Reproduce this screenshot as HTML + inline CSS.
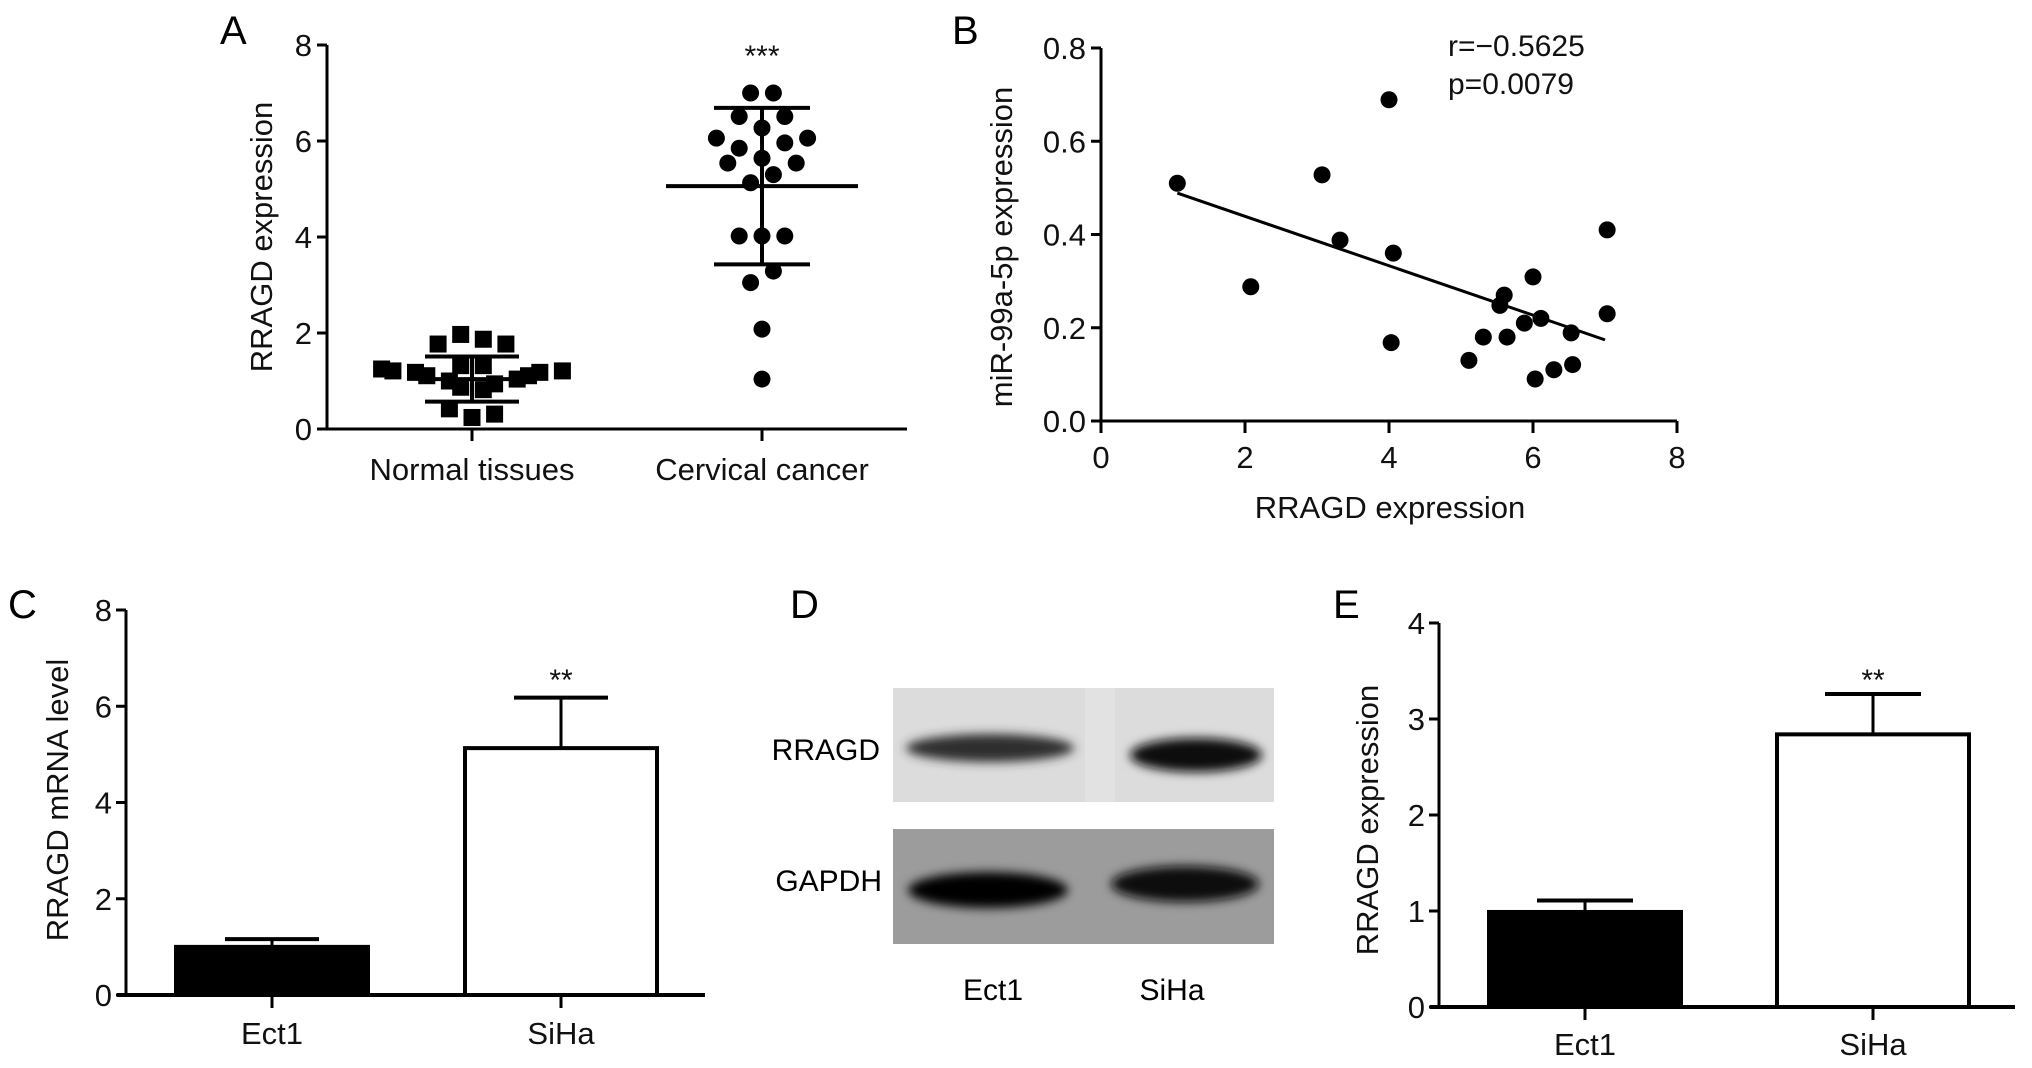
<!DOCTYPE html>
<html><head><meta charset="utf-8"><style>
html,body{margin:0;padding:0;background:#fff;}
svg{display:block;font-family:"Liberation Sans",Arial,sans-serif;}
</style></head><body>
<svg id="fig" width="2032" height="1068" viewBox="0 0 2032 1068" xmlns="http://www.w3.org/2000/svg">
<defs>
<filter id="blur" x="-20%" y="-60%" width="140%" height="220%"><feGaussianBlur stdDeviation="5"/></filter>
</defs>
<text x="220" y="44" font-size="40">A</text>
<text x="952" y="44" font-size="40">B</text>
<text x="8" y="618" font-size="40">C</text>
<text x="790" y="618" font-size="40">D</text>
<text x="1333" y="618" font-size="40">E</text>

<g>
<rect x="893" y="688" width="381" height="114" fill="#dcdcdc"/>
<rect x="1085" y="688" width="30" height="114" fill="#e2e2e2"/>
<ellipse cx="990" cy="748" rx="84" ry="14" fill="#2e2e2e" filter="url(#blur)"/>
<ellipse cx="1196" cy="755" rx="66" ry="17" fill="#0c0c0c" filter="url(#blur)"/>
<rect x="893" y="829" width="381" height="115" fill="#9c9c9c"/>
<ellipse cx="988" cy="890" rx="80" ry="18" fill="#050505" filter="url(#blur)"/>
<ellipse cx="1185" cy="884" rx="74" ry="18" fill="#080808" filter="url(#blur)"/>
<text x="880" y="760" font-size="30" text-anchor="end">RRAGD</text>
<text x="882" y="891" font-size="30" text-anchor="end">GAPDH</text>
<text x="993" y="1000" font-size="30" text-anchor="middle">Ect1</text>
<text x="1172" y="1000" font-size="30" text-anchor="middle">SiHa</text>
</g>
</svg>
<script>
// ---------- Panel A data ----------
const aCategories = ["Normal tissues", "Cervical cancer"];
const aNormalValues = [1.97,1.87,1.77,1.77,1.32,1.32,1.25,1.21,1.18,1.11,1.0,1.21,1.18,1.11,1.04,0.94,0.87,0.82,0.42,0.31,0.24];
const aNormalJitter = [-1,1,-3,3,-1,1,-8,-7,-5,-4,-2,8,6,5,4,2,-1,1,-2,2,0];
const aCancerValues = [7.0,7.0,6.51,6.51,6.27,6.06,6.06,5.96,5.85,5.64,5.54,5.54,5.30,5.13,4.02,4.02,4.02,3.29,3.05,2.08,1.04];
const aCancerJitter = [-0.5,0.5,-1,1,0,-2,2,1,-1,0,-1.5,1.5,0.5,-0.5,-1,0,1,0.5,-0.5,0,0];
const aMean = [1.04, 5.06];
const aSD = [0.47, 1.63];
const aTicks = [0,2,4,6,8];
// ---------- Panel B data ----------
const bX = [1.06,3.07,4.0,3.32,4.06,2.08,4.03,7.03,7.03,6.0,5.6,5.54,5.88,6.11,5.31,5.64,6.53,5.11,6.55,6.29,6.03];
const bY = [0.51,0.528,0.689,0.388,0.36,0.288,0.168,0.41,0.23,0.309,0.27,0.248,0.21,0.22,0.18,0.18,0.189,0.13,0.121,0.11,0.09];
const bFitSlope = -0.053;
const bFitIntercept = 0.545;
const bFitRange = [1.06, 7.0];
const bXTicks = [0,2,4,6,8];
const bYTicks = [0,0.2,0.4,0.6,0.8];
const bYTickLabels = ["0.0","0.2","0.4","0.6","0.8"];
// ---------- Panel C data ----------
const cCategories = ["Ect1","SiHa"];
const cValues = [1.0, 5.13];
const cErrors = [0.16, 1.05];
const cTicks = [0,2,4,6,8];
// ---------- Panel E data ----------
const eCategories = ["Ect1","SiHa"];
const eValues = [0.99, 2.84];
const eErrors = [0.12, 0.42];
const eTicks = [0,1,2,3,4];

const svg = document.getElementById('fig');
const NS = 'http://www.w3.org/2000/svg';
function mk(tag, attrs, text){
  const el = document.createElementNS(NS, tag);
  for (const k in attrs) el.setAttribute(k, attrs[k]);
  if (text !== undefined) el.textContent = text;
  svg.appendChild(el);
  return el;
}
function line(x1,y1,x2,y2,w,name){
  const el = mk('line',{x1:x1,y1:y1,x2:x2,y2:y2,stroke:'#000','stroke-width':w});
  
  
  return el;
}
function txt(x,y,s,size,anchor,name,rot){
  const a = {x:x,y:y,'font-size':size,'text-anchor':anchor,fill:'#111'};
  if (rot) a.transform = 'rotate(-90 '+x+' '+y+')';
  const el = mk('text',a,s);
  
  
  return el;
}

// ===== Panel A =====
(function(){
  const ax = 327, y0 = 429, y8 = 45, xEnd = 907;
  const ys = v => y0 - (y0 - y8) * v / 8;
  const cx = [472, 762];
  line(ax, y8, ax, y0+1.5, 3, 'a-y-axis');
  line(ax-8, y0, xEnd, y0, 3, 'a-x-axis');
  aTicks.forEach(t => {
    line(ax-10, ys(t), ax, ys(t), 3, 'a-y-tick');
    txt(ax-15, ys(t)+11, String(t), 31, 'end', 'a-y-tick-label');
  });
  aCategories.forEach((c,i) => {
    line(cx[i], y0, cx[i], y0+12, 3, 'a-x-tick');
    txt(cx[i], 480, c, 31, 'middle', 'a-x-tick-label');
  });
  txt(272, 237, 'RRAGD expression', 31, 'middle', 'a-y-axis-title', true);
  txt(762, 66, '***', 30, 'middle', 'a-significance');
  aNormalValues.forEach((v,i) => {
    const s = 17;
    const el = mk('rect',{x:cx[0]+aNormalJitter[i]*11.3 - s/2, y:ys(v)-s/2, width:s, height:s, fill:'#000'});
    
    
  });
  aCancerValues.forEach((v,i) => {
    const el = mk('ellipse',{cx:cx[1]+aCancerJitter[i]*22.8, cy:ys(v), rx:8.5, ry:8.5, fill:'#000'});
    
    
  });
  const meanHalf = [47, 96], sdHalf = [47, 48];
  [0,1].forEach(i => {
    line(cx[i], ys(aMean[i]+aSD[i]), cx[i], ys(aMean[i]-aSD[i]), 4, 'a-sd-line');
    line(cx[i]-meanHalf[i], ys(aMean[i]), cx[i]+meanHalf[i], ys(aMean[i]), 4, 'a-mean-line');
    line(cx[i]-sdHalf[i], ys(aMean[i]+aSD[i]), cx[i]+sdHalf[i], ys(aMean[i]+aSD[i]), 4, 'a-sd-cap-upper');
    line(cx[i]-sdHalf[i], ys(aMean[i]-aSD[i]), cx[i]+sdHalf[i], ys(aMean[i]-aSD[i]), 4, 'a-sd-cap-lower');
  });
})();

// ===== Panel B =====
(function(){
  const ax = 1101, y0 = 421, yTop = 48, x8 = 1677;
  const xs = v => ax + (x8 - ax) * v / 8;
  const ys = v => y0 - (y0 - yTop) * v / 0.8;
  line(ax, yTop, ax, y0+1.5, 3, 'b-y-axis');
  line(ax-1.5, y0, x8, y0, 3, 'b-x-axis');
  bYTicks.forEach((t,i) => {
    line(ax-10, ys(t), ax, ys(t), 3, 'b-y-tick');
    txt(ax-15, ys(t)+11, bYTickLabels[i], 31, 'end', 'b-y-tick-label');
  });
  bXTicks.forEach(t => {
    line(xs(t), y0, xs(t), y0+12, 3, 'b-x-tick');
    txt(xs(t), 468, String(t), 31, 'middle', 'b-x-tick-label');
  });
  txt(1390, 518, 'RRAGD expression', 31, 'middle', 'b-x-axis-title');
  txt(1012, 247, 'miR-99a-5p expression', 31, 'middle', 'b-y-axis-title', true);
  txt(1448, 56, 'r=\u22120.5625', 30, 'start', 'b-correlation-r');
  txt(1448, 94, 'p=0.0079', 30, 'start', 'b-p-value');
  line(xs(bFitRange[0]), ys(bFitIntercept + bFitSlope*bFitRange[0]), xs(bFitRange[1]), ys(bFitIntercept + bFitSlope*bFitRange[1]), 3, 'b-regression-line');
  bX.forEach((v,i) => {
    const el = mk('ellipse',{cx:xs(v), cy:ys(bY[i]), rx:8.5, ry:8.5, fill:'#000'});
    
    
  });
})();

// ===== Bar panels (C, E) =====
function barPanel(p){
  const ys = v => p.y0 - (p.y0 - p.yTop) * v / p.max;
  line(p.ax, p.yTop, p.ax, p.y0+1.5, 3, p.id+'-y-axis');
  line(p.xStart, p.y0, p.xEnd, p.y0, 4, p.id+'-x-axis');
  p.ticks.forEach(t => {
    line(p.ax-10, ys(t), p.ax, ys(t), 3, p.id+'-y-tick');
    txt(p.ax-14, ys(t)+11, String(t), 31, 'end', p.id+'-y-tick-label');
  });
  p.cats.forEach((c,i) => {
    const cx = p.cx[i];
    line(cx, p.y0, cx, p.y0+13, 3, p.id+'-x-tick');
    txt(cx, p.labelY, c, 31, 'middle', p.id+'-x-tick-label');
    const top = ys(p.vals[i]), etop = ys(p.vals[i]+p.errs[i]);
    line(cx, top, cx, etop, 3, p.id+'-error-bar');
    line(cx-p.capHalf, etop, cx+p.capHalf, etop, 4, p.id+'-error-cap');
    const el = mk('rect',{x:cx-p.half+2, y:top, width:2*p.half-4, height:p.y0-top, fill:i===0?'#000':'#fff', stroke:'#000','stroke-width':4});
    
    
  });
  txt(p.cx[1], p.starY, '**', 30, 'middle', p.id+'-significance');
  txt(p.titleX, p.titleY, p.title, 31, 'middle', p.id+'-y-axis-title', true);
}
barPanel({id:'c', ax:126, y0:995, yTop:610, max:8, xStart:117, xEnd:705, ticks:cTicks,
  cats:cCategories, vals:cValues, errs:cErrors, cx:[272,561], half:98, capHalf:47,
  labelY:1044, starY:690, title:'RRAGD mRNA level', titleX:68, titleY:800});
barPanel({id:'e', ax:1439, y0:1007, yTop:623, max:4, xStart:1430, xEnd:2015, ticks:eTicks,
  cats:eCategories, vals:eValues, errs:eErrors, cx:[1585,1873], half:98, capHalf:48,
  labelY:1055, starY:690, title:'RRAGD expression', titleX:1378, titleY:820});
</script>
</body></html>
